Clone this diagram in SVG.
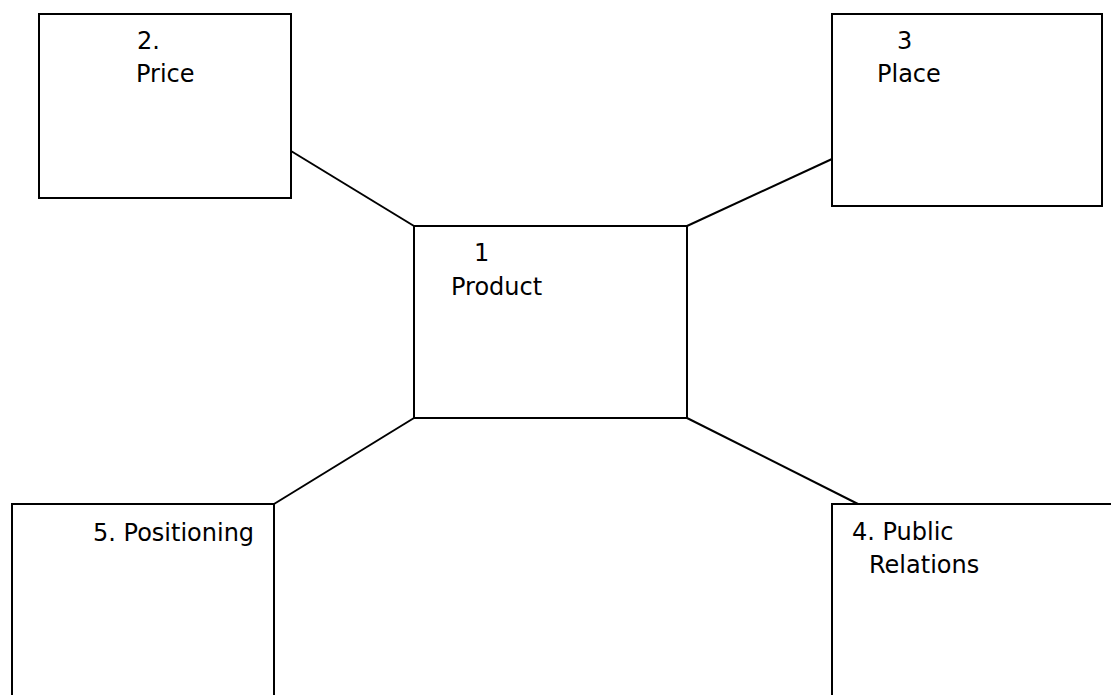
<svg xmlns="http://www.w3.org/2000/svg" width="1111" height="695" viewBox="0 0 1111 695">
<style>
.box{fill:#fff;stroke:#000;stroke-width:2}
.conn{stroke:#000;stroke-width:2;fill:none}
text{font-family:"DejaVu Sans","Verdana",sans-serif;font-size:24px;fill:#000}
</style>
<rect width="1111" height="695" fill="#fff"/>
<g id="connectors">
<line class="conn" x1="291" y1="151" x2="414" y2="226"/>
<line class="conn" x1="832" y1="159" x2="687" y2="226"/>
<line class="conn" x1="414" y1="418" x2="274" y2="504"/>
<line class="conn" x1="687" y1="418" x2="858" y2="504"/>
</g>
<g id="price">
<rect class="box" x="39" y="14" width="252" height="184"/>
<text x="137" y="49">2.</text>
<text x="136" y="82">Price</text>
</g>
<g id="place">
<rect class="box" x="832" y="14" width="270" height="192"/>
<text x="897" y="49">3</text>
<text x="877" y="82">Place</text>
</g>
<g id="product">
<rect class="box" x="414" y="226" width="273" height="192"/>
<text x="474" y="261">1</text>
<text x="451" y="295">Product</text>
</g>
<g id="positioning">
<rect class="box" x="12" y="504" width="262" height="240"/>
<text x="93" y="541">5. Positioning</text>
</g>
<g id="public-relations">
<rect class="box" x="832" y="504" width="320" height="240"/>
<text x="852" y="540">4. Public</text>
<text x="869" y="573">Relations</text>
</g>
</svg>
